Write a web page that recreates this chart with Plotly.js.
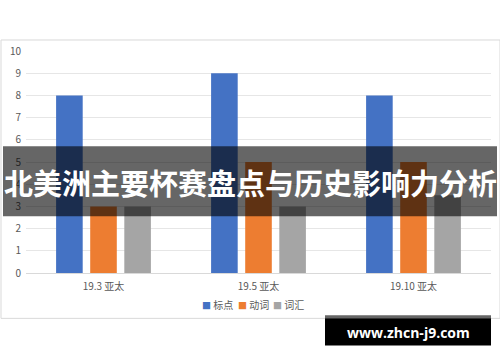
<!DOCTYPE html>
<html>
<head>
<meta charset="utf-8">
<script src="https://cdn.plot.ly/plotly-3.0.1.min.js"></script>
<style>html,body{margin:0;padding:0;background:#fff;}#chart{width:500px;height:362px;}</style>
</head>
<body>
<div id="chart"></div>
<script>
const categories = ["19.3 亚太", "19.5 亚太", "19.10 亚太"];
const seriesNames = ["标点", "动词", "词汇"];
const seriesBiaodian = [8, 9, 8];
const seriesDongci = [3, 5, 5];
const seriesCihui = [3, 3, 3.5];
const colors = ["#4472c4", "#ed7d31", "#a5a5a5"];
const yTicks = [0,1,2,3,4,5,6,7,8,9,10];
const bannerText = "北美洲主要杯赛盘点与历史影响力分析";
const watermarkText = "www.zhcn-j9.com";

const W = 500, H = 362;
const L = 26, R = 9, T = 51, B = 89.3;
const pw = W - L - R, ph = H - T - B;
const px = x => (x - L) / pw;
const py = y => (H - B - y) / ph;
const font = "'Noto Sans CJK SC', 'Noto Sans', sans-serif";

const values = [seriesBiaodian, seriesDongci, seriesCihui];
const data = values.map((v, i) => ({
  type: "bar", x: categories, y: v, name: seriesNames[i],
  marker: {color: colors[i]}, hoverinfo: "none"
}));

const legendX = [200, 236, 271];
const legendAnn = seriesNames.map((n, i) => ({
  xref: "paper", yref: "paper", x: px(legendX[i]), y: py(304.5), xanchor: "left", yanchor: "middle",
  showarrow: false, align: "left",
  text: '<span style="color:' + colors[i] + ';font-size:9px">■</span> ' + n,
  font: {family: font, size: 10, color: "#595959"}
}));

const layout = {
  width: W, height: H,
  margin: {l: L, r: R, t: T, b: B, pad: 0},
  paper_bgcolor: "#fff", plot_bgcolor: "#fff",
  barmode: "group", bargap: 0.34, bargroupgap: 0.22,
  font: {family: font, color: "#595959", size: 10},
  xaxis: {type: "category", showgrid: false, zeroline: false, showline: true,
    linecolor: "#d9d9d9", linewidth: 1, ticks: "", tickfont: {size: 10, color: "#595959"},
    ticklabelstandoff: 4},
  yaxis: {range: [0, 10], tickvals: yTicks, showgrid: true, gridcolor: "#e6e6e6",
    gridwidth: 1, zeroline: false, showline: false, ticks: "",
    tickfont: {size: 10, color: "#595959"}, ticklabelstandoff: 4, fixedrange: true},
  showlegend: false,
  shapes: [
    {type: "rect", xref: "paper", yref: "paper", x0: px(1), x1: px(500), y0: py(40), y1: py(318),
      line: {color: "#d9d9d9", width: 1}, fillcolor: "rgba(0,0,0,0)", layer: "below"},
    {type: "rect", xref: "paper", yref: "paper", x0: px(3), x1: px(497), y0: py(146), y1: py(216),
      line: {width: 0}, fillcolor: "rgba(0,0,0,0.6)", layer: "above"},
    {type: "rect", xref: "paper", yref: "paper", x0: px(325), x1: px(491), y0: py(315), y1: py(318),
      line: {width: 0}, fillcolor: "#666666", layer: "above"},
    {type: "rect", xref: "paper", yref: "paper", x0: px(325), x1: px(491), y0: py(318), y1: py(345),
      line: {width: 0}, fillcolor: "#000000", layer: "above"}
  ],
  annotations: legendAnn.concat([
    {xref: "paper", yref: "paper", x: px(250), y: py(182), xanchor: "center", yanchor: "middle",
      text: "<b>" + bannerText + "</b>", showarrow: false,
      font: {family: font, size: 29, color: "#ffffff"}},
    {xref: "paper", yref: "paper", x: px(408), y: py(332), xanchor: "center", yanchor: "middle",
      text: "<b>" + watermarkText + "</b>", showarrow: false,
      font: {family: "'Open Sans', 'DejaVu Sans', sans-serif", size: 14, color: "#ffffff"}}
  ])
};

Plotly.newPlot("chart", data, layout, {displayModeBar: false, staticPlot: true});
</script>
</body>
</html>
